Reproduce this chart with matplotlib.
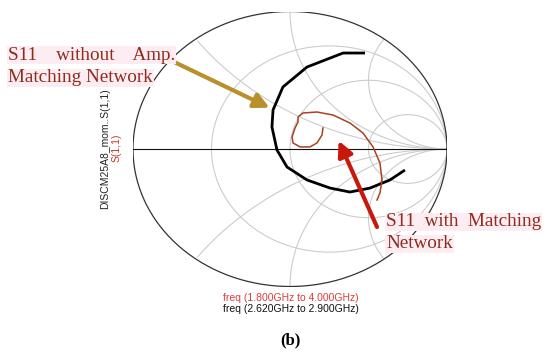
import numpy as np
import matplotlib
matplotlib.use("Agg")
import matplotlib.pyplot as plt

# Smith chart grid values
R_CIRCLES = [1 / 3, 1, 3]
X_ARCS = [0.5, 1, 2]

# S11 without matching network (freq 2.620 GHz to 2.900 GHz), reflection coefficient
S11_AMP_RE = [0.478, 0.338, 0.108, -0.045, -0.108, -0.115, -0.083, -0.019,
              0.108, 0.255, 0.382, 0.510, 0.637, 0.732]
S11_AMP_IM = [0.698, 0.698, 0.596, 0.451, 0.284, 0.160, -0.007, -0.131,
              -0.225, -0.284, -0.313, -0.284, -0.225, -0.153]

# S11 with matching network (freq 1.800 GHz to 4.000 GHz)
S11_MN_RE = [0.210, 0.204, 0.172, 0.127, 0.064, 0.019, 0.013, 0.032, 0.051,
             0.051, 0.083, 0.172, 0.274, 0.382, 0.465, 0.529, 0.573, 0.586,
             0.573, 0.554]
S11_MN_IM = [0.153, 0.102, 0.044, 0.015, 0.015, 0.044, 0.087, 0.153, 0.196,
             0.233, 0.262, 0.269, 0.247, 0.189, 0.116, 0.015, -0.102, -0.225,
             -0.320, -0.371]

GRID = "#cccccc"
RED_TXT = "#8e2c1c"
SERIF = ["Liberation Serif", "DejaVu Serif"]

fig = plt.figure(figsize=(5.5, 3.53), dpi=100)
fig.patch.set_facecolor("white")

# smith chart axes, ellipse spans the axes box
ax = fig.add_axes([133 / 550, 1 - 286.5 / 353, 314 / 550, 275 / 353])
ax.set_xlim(-1.0, 1.0)
ax.set_ylim(-1.0, 1.0)
ax.axis("off")

t = np.linspace(0, 2 * np.pi, 400)

# constant resistance circles
for r in R_CIRCLES:
    c = r / (1 + r)
    rad = 1 / (1 + r)
    ax.plot(c + rad * np.cos(t), rad * np.sin(t), color=GRID, lw=0.8)

# constant reactance arcs, clipped to unit circle
for x in X_ARCS:
    for s in (1, -1):
        cx, cy, rad = 1.0, s / x, 1 / x
        px = cx + rad * np.cos(t)
        py = cy + rad * np.sin(t)
        inside = px ** 2 + py ** 2 <= 1.0005
        px = np.where(inside, px, np.nan)
        py = np.where(inside, py, np.nan)
        ax.plot(px, py, color=GRID, lw=0.8)

ax.plot(np.cos(t), np.sin(t), color="#333333", lw=0.9)
ax.plot([-1, 1], [0, 0], color="#111111", lw=0.8)

ax.plot(S11_AMP_RE, S11_AMP_IM, color="black", lw=2.0, solid_capstyle="butt")
ax.plot(S11_MN_RE, S11_MN_IM, color="#a8421f", lw=1.1)

# arrows
ax.annotate("", xy=(-0.13, 0.30), xytext=(170 / 550, 1 - 60 / 353),
            textcoords="figure fraction",
            arrowprops=dict(arrowstyle="-|>,head_length=0.9,head_width=0.45",
                            color="#b8902c", lw=3.0, shrinkA=0, shrinkB=0))
ax.annotate("", xy=(0.31, 0.06), xytext=(377 / 550, 1 - 227 / 353),
            textcoords="figure fraction",
            arrowprops=dict(arrowstyle="-|>,head_length=0.9,head_width=0.45",
                            color="#c8180c", lw=3.0, shrinkA=0, shrinkB=0))

hl = dict(facecolor="#fdedf3", edgecolor="none", pad=0.5)

fig.text(8 / 550, 1 - 55 / 353, "S11    without    Amp.", fontsize=13.8,
         family=SERIF, color=RED_TXT, va="center", ha="left", bbox=hl)
fig.text(8 / 550, 1 - 78 / 353, "Matching Network", fontsize=13.8,
         family=SERIF, color=RED_TXT, va="center", ha="left", bbox=hl)
fig.text(386 / 550, 1 - 222 / 353, "S11  with  Matching", fontsize=13.8,
         family=SERIF, color=RED_TXT, va="center", ha="left", bbox=hl)
fig.text(386 / 550, 1 - 244 / 353, "Network", fontsize=13.8,
         family=SERIF, color=RED_TXT, va="center", ha="left", bbox=hl)

# axis labels
fig.text(105 / 550, 1 - 149 / 353, "DISCM25A8_mom..S(1,1)", rotation=90,
         fontsize=7.5, family="Liberation Sans", color="#222222",
         ha="center", va="center")
fig.text(117 / 550, 1 - 148 / 353, "S(1,1)", rotation=90,
         fontsize=7.5, family="Liberation Sans", color="#c0392b",
         ha="center", va="center")

fig.text(291 / 550, 1 - 298 / 353, "freq (1.800GHz to 4.000GHz)",
         fontsize=7.5, family="Liberation Sans", color="#e03a3a",
         ha="center", va="center")
fig.text(291 / 550, 1 - 309 / 353, "freq (2.620GHz to 2.900GHz)",
         fontsize=7.5, family="Liberation Sans", color="#111111",
         ha="center", va="center")

fig.text(290 / 550, 1 - 340 / 353, "(b)", fontsize=12, fontweight="bold",
         family=SERIF, color="black", ha="center", va="center")

fig.savefig("out.png", dpi=100, facecolor="white")
